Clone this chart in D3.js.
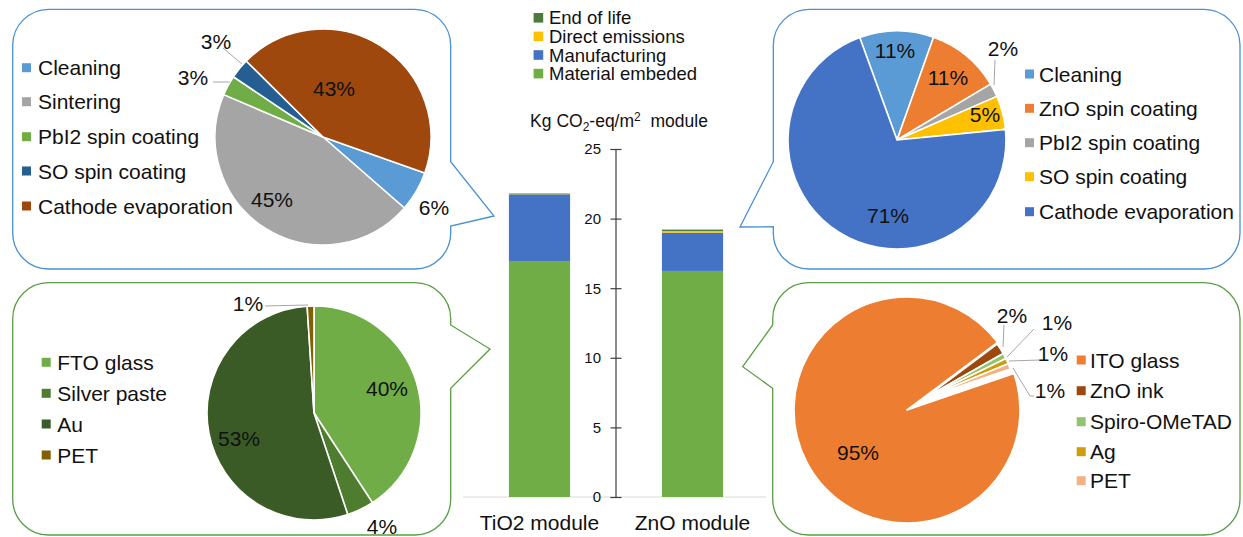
<!DOCTYPE html>
<html>
<head>
<meta charset="utf-8">
<script src="https://cdn.jsdelivr.net/npm/d3@7"></script>
<style>
  html, body { margin: 0; padding: 0; background: #fff; }
  svg { display: block; font-family: "Liberation Sans", Arial, sans-serif; }
</style>
</head>
<body>
<svg id="chart" width="1243" height="537"></svg>
<script>
// ---- Stacked bar: life-cycle emissions per m2 of module ----
const barCategories = ["TiO2 module", "ZnO module"];
const materialEmbedded = [16.95, 16.24];
const manufacturing = [4.78, 2.75];
const directEmissions = [0.01, 0.12];
const endOfLife = [0.06, 0.10];
const stageNames = ["Material embeded", "Manufacturing", "Direct emissions", "End of life"];
const yTicks = [0, 5, 10, 15, 20, 25];

// ---- Manufacturing breakdown (%), TiO2 device ----
const tio2ProcessNames = ["Cleaning", "Sintering", "PbI2 spin coating", "SO spin coating", "Cathode evaporation"];
const tio2ProcessShare = [6, 45, 3, 3, 43];

// ---- Manufacturing breakdown (%), ZnO device ----
const znoProcessNames = ["Cleaning", "ZnO spin coating", "PbI2 spin coating", "SO spin coating", "Cathode evaporation"];
const znoProcessShare = [11, 11, 2, 5, 71];

// ---- Embedded material breakdown (%), TiO2 device ----
const tio2MaterialNames = ["FTO glass", "Silver paste", "Au", "PET"];
const tio2MaterialShare = [40, 4, 53, 1];

// ---- Embedded material breakdown (%), ZnO device ----
const znoMaterialNames = ["ITO glass", "ZnO ink", "Spiro-OMeTAD", "Ag", "PET"];
const znoMaterialShare = [95, 2, 1, 1, 1];

const svg = d3.select("#chart");
const TXT = "#111";
const FS = 21;
const deg = Math.PI / 180;

// ---------- callout boxes ----------
function callout(x0, y0, x1, y1, r, side, pA, tip, pB) {
  const p = d3.path();
  p.moveTo(x0 + r, y0);
  p.lineTo(x1 - r, y0);
  p.arcTo(x1, y0, x1, y0 + r, r);
  if (side === "right") { p.lineTo(x1, pA); p.lineTo(tip[0], tip[1]); p.lineTo(x1, pB); }
  p.lineTo(x1, y1 - r);
  p.arcTo(x1, y1, x1 - r, y1, r);
  p.lineTo(x0 + r, y1);
  p.arcTo(x0, y1, x0, y1 - r, r);
  if (side === "left") { p.lineTo(x0, pB); p.lineTo(tip[0], tip[1]); p.lineTo(x0, pA); }
  p.lineTo(x0, y0 + r);
  p.arcTo(x0, y0, x0 + r, y0, r);
  p.closePath();
  return p.toString();
}
const blueLine = "#4a90d2", greenLine = "#5a9e48";
const boxes = [
  { d: callout(12.7, 9.3, 450.7, 269, 36, "right", 161.7, [494, 216], 226), c: blueLine },
  { d: callout(773.3, 9.3, 1240, 269, 36, "left", 161.7, [740, 227], 226.7), c: blueLine },
  { d: callout(12.7, 282.7, 450.7, 535, 36, "right", 325, [490, 349], 388.3), c: greenLine },
  { d: callout(772.7, 282.7, 1240, 535, 36, "left", 325, [742.7, 366.7], 388.3), c: greenLine }
];
svg.append("g").selectAll("path").data(boxes).join("path")
  .attr("d", d => d.d).attr("fill", "#fff").attr("stroke", d => d.c).attr("stroke-width", 1.3);

// ---------- pies ----------
function drawPie(cfg) {
  const g = svg.append("g");
  const pie = d3.pie().sort(null).value(d => d)
    .startAngle(cfg.start * deg).endAngle(cfg.start * deg + 2 * Math.PI);
  const arcs = pie(cfg.values);
  const c = g.append("g").attr("transform", `translate(${cfg.cx},${cfg.cy})`);
  c.selectAll("path.slice").data(arcs).join("path")
    .attr("class", "slice")
    .attr("transform", (d, i) => cfg.shift && i > 0 ? `translate(${cfg.shift[0]},${cfg.shift[1]})` : null)
    .attr("d", (d, i) => d3.arc().innerRadius(0)
      .outerRadius(cfg.innerR && i > 0 ? cfg.innerR : cfg.r)(d))
    .attr("fill", (d, i) => cfg.colors[i])
    .attr("stroke", "#fff").attr("stroke-width", 1.6).attr("stroke-linejoin", "round");

  // leader lines
  c.selectAll("polyline").data(cfg.leaders || []).join("polyline")
    .attr("points", d => d.map(p => p.join(",")).join(" "))
    .attr("fill", "none").attr("stroke", "#a6a6a6").attr("stroke-width", 1);

  // percentage labels
  c.selectAll("text.pct").data(arcs).join("text")
    .attr("class", "pct")
    .attr("x", (d, i) => cfg.labelAt[i][0]).attr("y", (d, i) => cfg.labelAt[i][1])
    .attr("dy", "0.36em").attr("text-anchor", "middle")
    .attr("font-size", FS).attr("fill", TXT)
    .text(d => `${d.data}%`);

  // legend
  const lg = g.append("g");
  const rows = lg.selectAll("g").data(cfg.names).join("g")
    .attr("transform", (d, i) => `translate(${cfg.legend.x},${cfg.legend.y[i]})`);
  rows.append("rect").attr("x", 0).attr("y", -4.5).attr("width", 9).attr("height", 9)
    .attr("fill", (d, i) => cfg.colors[i]);
  rows.append("text").attr("x", cfg.legend.gap).attr("dy", "0.36em")
    .attr("font-size", FS).attr("fill", TXT).text(d => d);
}

drawPie({
  values: tio2ProcessShare, names: tio2ProcessNames,
  cx: 323, cy: 137, r: 108, start: 109.5,
  colors: ["#5b9bd5", "#a5a5a5", "#70ad47", "#255e91", "#9e480e"],
  labelAt: [[111, 70], [-51, 62], [-130, -60], [-107, -96], [11, -49]],
  leaders: [[[-110, -55], [-93, -55]], [[-100, -89], [-81, -73]]],
  legend: { x: 22, gap: 16, y: [67.7, 101.7, 136.7, 171, 206] }
});

drawPie({
  values: znoProcessShare, names: znoProcessNames,
  cx: 897, cy: 140, r: 109, start: -20,
  colors: ["#5b9bd5", "#ed7d31", "#a5a5a5", "#ffc000", "#4472c4"],
  labelAt: [[-2, -90], [51, -63], [106, -92], [88, -26], [-9, 75]],
  leaders: [[[98, -80], [97, -55]]],
  legend: { x: 1025, gap: 14, y: [74, 108.3, 142.7, 176.7, 211.7] }
});

drawPie({
  values: tio2MaterialShare, names: tio2MaterialNames,
  cx: 314, cy: 413, r: 107, start: 0,
  colors: ["#70ad47", "#4e7d30", "#3a5a26", "#806000"],
  labelAt: [[73, -25], [68, 113], [-75, 25], [-66, -110]],
  leaders: [[[-49, -107], [-6, -108]]],
  legend: { x: 41.7, gap: 15.6, y: [362.3, 393.3, 424, 455] }
});

drawPie({
  values: znoMaterialShare, names: znoMaterialNames,
  cx: 907, cy: 410, r: 113, innerR: 90, shift: [18, -12], start: 71.2,
  colors: ["#ed7d31", "#9e480e", "#91c46e", "#cc9f0a", "#f4b183"],
  labelAt: [[-49, 42], [105, -95], [150, -88], [146, -57], [143, -20]],
  leaders: [[[97, -85], [96, -63]], [[127, -81], [100, -53]], [[133, -50], [102, -49]],
            [[127, -14], [123, -14], [106, -42]]],
  legend: { x: 1076.7, gap: 13.3, y: [360, 390.7, 421.7, 451.7, 480.7] }
});

// ---------- stacked bar chart ----------
const x = d3.scaleBand().domain(barCategories).range([463, 769])
  .paddingInner(0.6).paddingOuter(0.3);
const y = d3.scaleLinear().domain([0, 25]).range([497, 149]);
const barColors = { "Material embeded": "#70ad47", "Manufacturing": "#4472c4",
                    "Direct emissions": "#ffc000", "End of life": "#4e7a3c" };
const stageValues = [materialEmbedded, manufacturing, directEmissions, endOfLife];
const rowsData = barCategories.map((c, i) => {
  const o = { cat: c };
  stageNames.forEach((s, k) => { o[s] = stageValues[k][i]; });
  return o;
});
const stacked = d3.stack().keys(stageNames)(rowsData);

// baseline
svg.append("line").attr("x1", 463).attr("x2", 766).attr("y1", y(0)).attr("y2", y(0))
  .attr("stroke", "#d9d9d9").attr("stroke-width", 1.2);

svg.append("g").selectAll("g").data(stacked).join("g")
  .attr("fill", d => barColors[d.key])
  .selectAll("rect").data(d => d).join("rect")
  .attr("x", d => x(d.data.cat)).attr("width", x.bandwidth())
  .attr("y", d => y(d[1])).attr("height", d => y(d[0]) - y(d[1]));

// y axis sits between the two categories
const axisX = (x.range()[0] + x.range()[1]) / 2 - 0.5;
const yAxis = svg.append("g").attr("transform", `translate(${axisX},0)`)
  .call(d3.axisLeft(y).tickValues(yTicks).tickSizeOuter(0).tickSize(5).tickPadding(9.5));
yAxis.select(".domain").attr("stroke", "#404040").attr("stroke-width", 1.2);
yAxis.selectAll(".tick line").attr("x1", 6).attr("stroke", "#404040").attr("stroke-width", 1.2);
yAxis.selectAll(".tick text").attr("font-size", 15).attr("fill", TXT)
  .attr("font-family", "Liberation Sans, Arial, sans-serif");

// category labels
svg.append("g").selectAll("text").data(barCategories).join("text")
  .attr("x", d => x(d) + x.bandwidth() / 2).attr("y", 529.5)
  .attr("text-anchor", "middle").attr("font-size", FS).attr("fill", TXT).text(d => d);

// unit title
const title = svg.append("text").attr("x", 619).attr("y", 127)
  .attr("text-anchor", "middle").attr("font-size", 17.5).attr("fill", TXT);
title.append("tspan").text("Kg CO");
title.append("tspan").attr("font-size", 12).attr("dy", 4).text("2");
title.append("tspan").attr("dy", -4).text("-eq/m");
title.append("tspan").attr("font-size", 12).attr("dy", -6).text("2");
title.append("tspan").attr("dy", 6).text("\u00a0 module");

// bar legend (top entry = top of stack)
const legendOrder = stageNames.slice().reverse();
const bl = svg.append("g").selectAll("g").data(legendOrder).join("g")
  .attr("transform", (d, i) => `translate(533.6,${17.8 + i * 18.6})`);
bl.append("rect").attr("y", -4.8).attr("width", 9.6).attr("height", 9.6).attr("fill", d => barColors[d]);
bl.append("text").attr("x", 15.4).attr("dy", "0.36em").attr("font-size", 18.5).attr("fill", TXT).text(d => d);
</script>
</body>
</html>
